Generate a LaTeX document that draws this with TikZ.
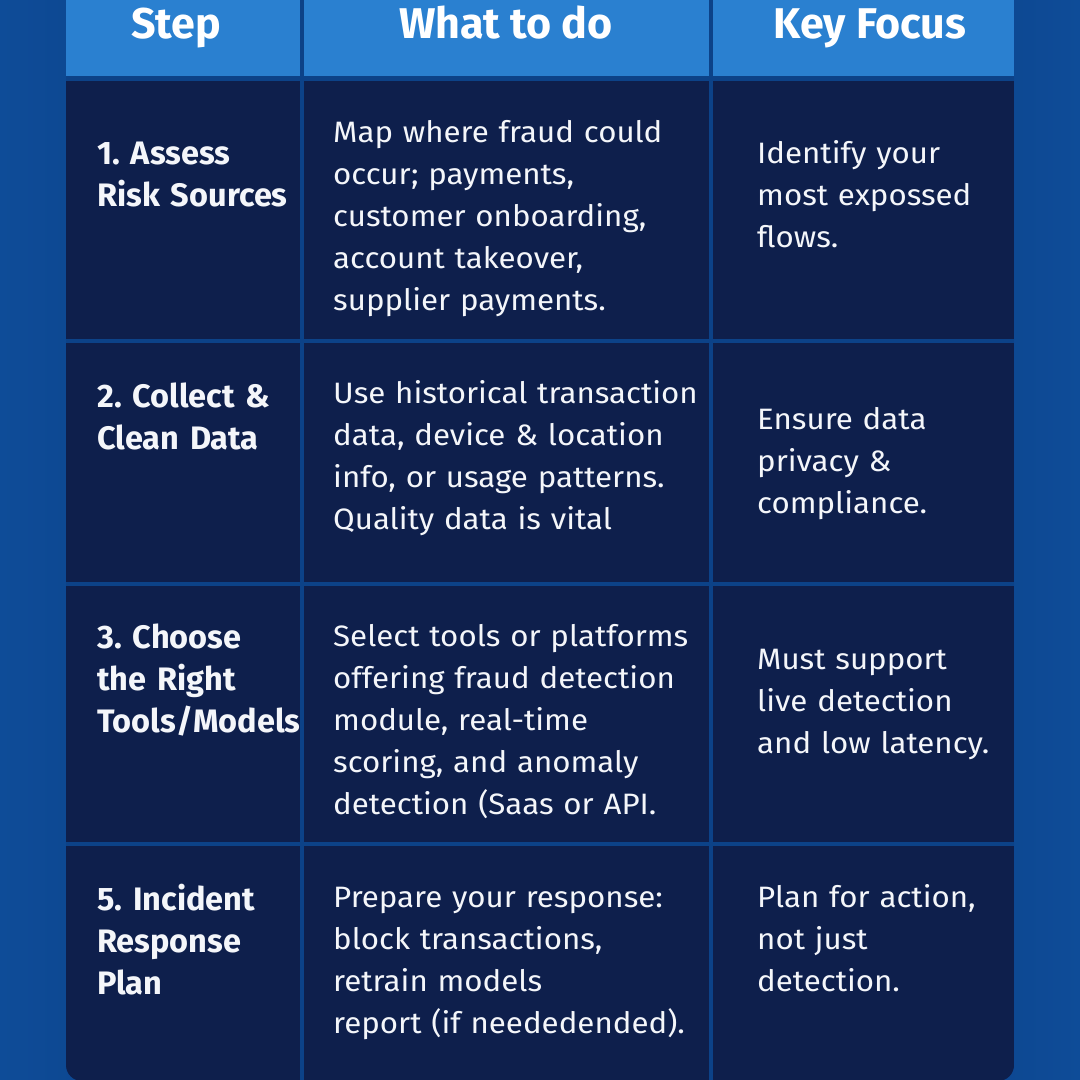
\documentclass[tikz,border=0pt]{standalone}
\usepackage{fontspec}
\setmainfont{Fira Sans}
\newfontfamily\bodyfont[FakeStretch=1.06]{Fira Sans}
\definecolor{bgedge}{HTML}{0E4C98}
\definecolor{bgmid}{HTML}{082F6E}
\definecolor{gridc}{HTML}{0C4288}
\definecolor{headc}{HTML}{2A80D0}
\definecolor{bodyc}{HTML}{0E1F4C}
\definecolor{txtc}{HTML}{F4F6FA}
\tikzset{
  hdrtxt/.style={anchor=base, text=white, font=\fontsize{43}{48}\selectfont\bfseries, inner sep=0pt},
  steptxt/.style={anchor=base west, text=txtc, font=\fontsize{32.5}{42}\selectfont\bfseries\frenchspacing, inner sep=0pt, text width=215pt, align=left},
  dotxt/.style={anchor=base west, text=txtc, font=\bodyfont\fontsize{29.5}{42}\selectfont\frenchspacing, inner sep=0pt, text width=380pt, align=left},
  keytxt/.style={anchor=base west, text=txtc, font=\bodyfont\fontsize{29.5}{42}\selectfont\frenchspacing, inner sep=0pt, text width=255pt, align=left},
}
\begin{document}
\begin{tikzpicture}[x=1pt,y=-1pt]
\useasboundingbox (0,0) rectangle (1080,1080);
\shade[left color=bgedge, right color=bgedge, middle color=bgmid] (0,0) rectangle (1080,1080);
\begin{scope}
\clip[rounded corners=16] (66,-40) rectangle (1014,1081);
\fill[gridc] (66,-40) rectangle (1014,1081);
% header
\fill[headc] (66,-40) rectangle (300,76);
\fill[headc] (304,-40) rectangle (709,76);
\fill[headc] (713,-40) rectangle (1014,76);
% rows
\foreach \ya/\yb in {81/339, 343/582, 586/842, 846/1090}{
  \fill[bodyc] (66,\ya) rectangle (300,\yb);
  \fill[bodyc] (304,\ya) rectangle (709,\yb);
  \fill[bodyc] (713,\ya) rectangle (1014,\yb);
}
\end{scope}
% header text
\node[hdrtxt] (h1) at (176,38) {Step};
\node[hdrtxt] (h2) at (506,38) {What to do};
\node[hdrtxt] (h3) at (870,38) {Key Focus};
% row 1
\node[steptxt] (s1) at (97,164) {1. Assess\\Risk Sources};
\node[dotxt] (d1) at (333,142) {Map where fraud could\\occur; payments,\\customer onboarding,\\account takeover,\\supplier payments.};
\node[keytxt] (k1) at (757,163) {Identify your\\most expossed\\flows.};
% row 2
\node[steptxt] (s2) at (97,407) {2. Collect \&\\Clean Data};
\node[dotxt] (d2) at (333,403) {Use historical transaction\\data, device \& location\\info, or usage patterns.\\Quality data is vital};
\node[keytxt] (k2) at (757,429) {Ensure data\\privacy \&\\compliance.};
% row 3
\node[steptxt] (s3) at (97,648) {3. Choose\\the Right\\Tools/Models};
\node[dotxt] (d3) at (333,646) {Select tools or platforms\\offering fraud detection\\module, real-time\\scoring, and anomaly\\detection (Saas or API.};
\node[keytxt] (k3) at (757,669) {Must support\\live detection\\and low latency.};
% row 4
\node[steptxt] (s4) at (97,910) {5. Incident\\Response\\Plan};
\node[dotxt] (d4) at (333,907) {Prepare your response:\\block transactions,\\retrain models\\report (if neededended).};
\node[keytxt] (k4) at (757,907) {Plan for action,\\not just\\detection.};
\end{tikzpicture}
\end{document}
